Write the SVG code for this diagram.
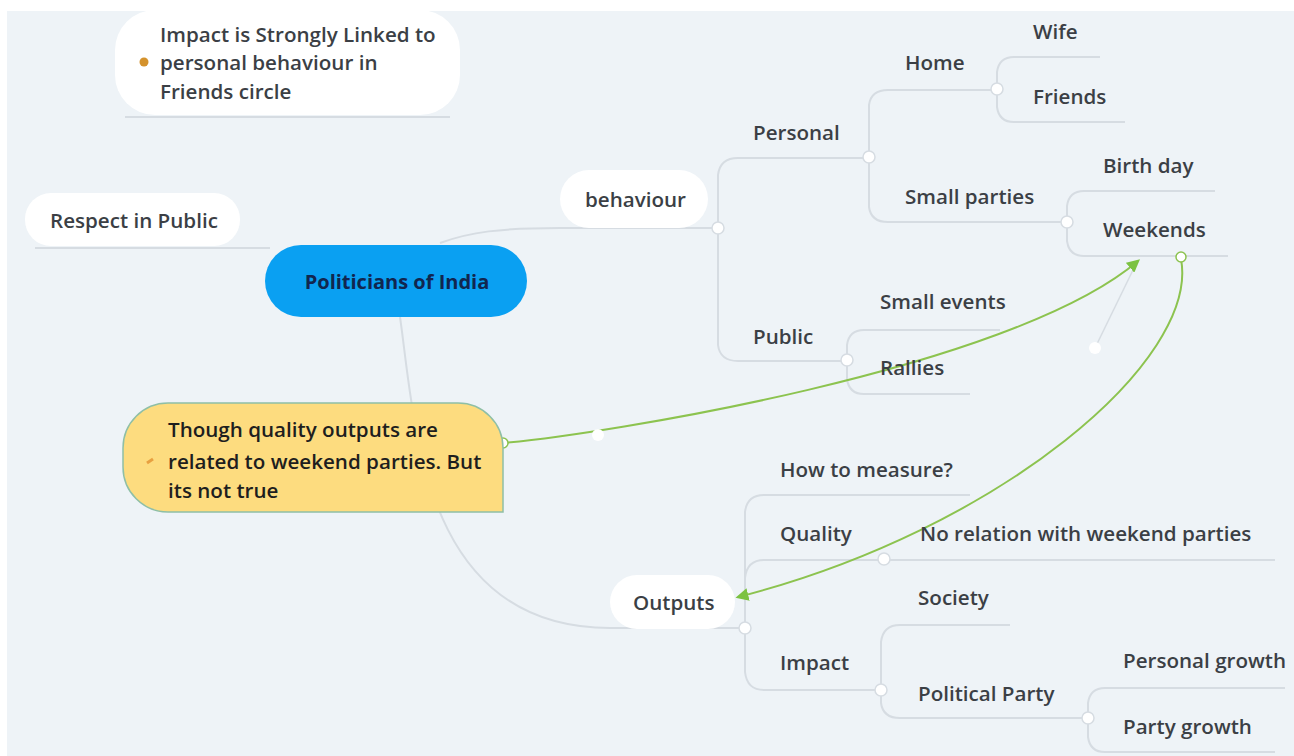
<svg xmlns="http://www.w3.org/2000/svg" width="1294" height="756" viewBox="0 0 1294 756">
<defs>
<style>
.t{font-family:"Open Sans","Liberation Sans",Arial,sans-serif;font-size:20.6px;font-weight:600;fill:#3b3f45;}
.ln{fill:none;stroke:#d6dce2;stroke-width:2;}
.hub{fill:#ffffff;stroke:#d6dce2;stroke-width:1.5;}
.box{fill:#ffffff;}
.rel{fill:none;stroke:#8cc34f;stroke-width:2;}
</style>
<marker id="ah" viewBox="0 0 10 10" refX="8" refY="5" markerWidth="13" markerHeight="13" orient="auto-start-reverse" markerUnits="userSpaceOnUse">
<path d="M0,0 L10,5 L0,10 z" fill="#7cc242"/>
</marker>
</defs>
<rect x="0" y="0" width="1294" height="756" fill="#ffffff"/>
<rect x="7" y="11" width="1287" height="745" fill="#eef3f7"/>

<g id="connectors">
<path class="ln" d="M440,243 C470,232 500,228 560,228 L718,228"/>
<path class="ln" d="M718,228 L718,175 Q720,158 738,158 L869,158"/>
<path class="ln" d="M718,228 L718,345 Q720,361 738,361 L847,361"/>
<path class="ln" d="M869,158 L869,105 Q871,90 888,90 L997,90"/>
<path class="ln" d="M869,158 L869,207 Q871,222 888,222 L1067,222"/>
<path class="ln" d="M997,90 L997,72 Q999,57 1014,57 L1100,57"/>
<path class="ln" d="M997,90 L997,107 Q999,122 1014,122 L1125,122"/>
<path class="ln" d="M1067,222 L1067,206 Q1069,191 1084,191 L1215,191"/>
<path class="ln" d="M1067,222 L1067,241 Q1069,256 1084,256 L1228,256"/>
<path class="ln" d="M847,361 L847,345 Q849,330 864,330 L1000,330"/>
<path class="ln" d="M847,361 L847,379 Q849,394 864,394 L970,394"/>
<path class="ln" d="M400,317 C415,420 420,628 610,628 L745,628"/>
<path class="ln" d="M745,628 L745,512 Q747,495 764,495 L970,495"/>
<path class="ln" d="M745,628 L745,578 Q747,560 764,560 L1275,560"/>
<path class="ln" d="M745,628 L745,672 Q747,690 764,690 L881,690"/>
<path class="ln" d="M881,690 L881,642 Q883,625 900,625 L1010,625"/>
<path class="ln" d="M881,690 L881,703 Q883,718 900,718 L1088,718"/>
<path class="ln" d="M1088,718 L1088,703 Q1090,688 1105,688 L1285,688"/>
<path class="ln" d="M1088,718 L1088,737 Q1090,752 1105,752 L1275,752"/>
<path class="ln" d="M35,248 L270,248"/>
<path class="ln" d="M125,117 L450,117"/>
<path fill="none" stroke="#d6dce2" stroke-width="1.5" d="M1095,348 L1133,270"/>
<path class="rel" d="M503,443 C598,435 1010,370 1138,261" marker-end="url(#ah)"/>
<path class="rel" d="M1181,259 C1200,360 1000,530 738,597" marker-end="url(#ah)"/>
<circle cx="598" cy="435" r="6" fill="#ffffff"/>
<circle cx="1095" cy="348" r="6" fill="#ffffff"/>
<circle cx="503" cy="443" r="5" fill="#ffffff" stroke="#8cc34f" stroke-width="1.5"/>
<circle cx="1181" cy="257" r="5" fill="#ffffff" stroke="#8cc34f" stroke-width="1.5"/>
<circle class="hub" cx="718" cy="228" r="6"/>
<circle class="hub" cx="869" cy="157" r="6"/>
<circle class="hub" cx="997" cy="89" r="6"/>
<circle class="hub" cx="1067" cy="222" r="6"/>
<circle class="hub" cx="847" cy="360" r="6"/>
<circle class="hub" cx="745" cy="628" r="6"/>
<circle class="hub" cx="884" cy="559" r="6"/>
<circle class="hub" cx="881" cy="690" r="6"/>
<circle class="hub" cx="1088" cy="718" r="6"/>
</g>

<g id="note-impact">
<rect class="box" x="115" y="10" width="345" height="105" rx="40"/>
<circle cx="144" cy="62" r="4.5" fill="#d4922c"/>
<text class="t" x="160" y="42">Impact is Strongly Linked to</text>
<text class="t" x="160" y="70">personal behaviour in</text>
<text class="t" x="160" y="99">Friends circle</text>
</g>

<g id="respect">
<rect class="box" x="25" y="193" width="215" height="53" rx="26"/>
<text class="t" x="50" y="228">Respect in Public</text>
</g>

<g id="central">
<rect x="265" y="245" width="262" height="72" rx="36" fill="#0aa0f2"/>
<text x="397" y="289" text-anchor="middle" font-family="Open Sans,Liberation Sans,Arial,sans-serif" font-size="20" font-weight="bold" fill="#11264f">Politicians of India</text>
</g>

<g id="behaviour">
<rect class="box" x="560" y="170" width="148" height="58" rx="29"/>
<text class="t" x="585" y="207">behaviour</text>
</g>
<g id="personal"><text class="t" x="753" y="140">Personal</text></g>
<g id="home"><text class="t" x="905" y="70">Home</text></g>
<g id="wife"><text class="t" x="1033" y="39">Wife</text></g>
<g id="friends"><text class="t" x="1033" y="104">Friends</text></g>
<g id="small-parties"><text class="t" x="905" y="204">Small parties</text></g>
<g id="birth-day"><text class="t" x="1103" y="173">Birth day</text></g>
<g id="weekends"><text class="t" x="1103" y="237">Weekends</text></g>
<g id="public"><text class="t" x="753" y="344">Public</text></g>
<g id="small-events"><text class="t" x="880" y="309">Small events</text></g>
<g id="rallies"><text class="t" x="880" y="375">Rallies</text></g>

<g id="outputs">
<rect class="box" x="610" y="575" width="125" height="54" rx="27"/>
<text class="t" x="633" y="610">Outputs</text>
</g>
<g id="how-to-measure"><text class="t" x="780" y="477">How to measure?</text></g>
<g id="quality"><text class="t" x="780" y="541">Quality</text></g>
<g id="no-relation"><text class="t" x="920" y="541">No relation with weekend parties</text></g>
<g id="impact"><text class="t" x="780" y="670">Impact</text></g>
<g id="society"><text class="t" x="918" y="605">Society</text></g>
<g id="political-party"><text class="t" x="918" y="701">Political Party</text></g>
<g id="personal-growth"><text class="t" x="1123" y="668">Personal growth</text></g>
<g id="party-growth"><text class="t" x="1123" y="734">Party growth</text></g>

<g id="note-quality">
<path d="M168,403 L458,403 A45,45 0 0 1 503,448 L503,512 L168,512 A45,45 0 0 1 123,467 L123,448 A45,45 0 0 1 168,403 Z" fill="#fddc7f" stroke="#8fbfa6" stroke-width="1.5"/>
<path d="M147,463 L153,459" stroke="#e8a040" stroke-width="3"/>
<text class="t" x="168" y="437" style="fill:#1e1e1e">Though quality outputs are</text>
<text class="t" x="168" y="469" style="fill:#1e1e1e">related to weekend parties. But</text>
<text class="t" x="168" y="498" style="fill:#1e1e1e">its not true</text>
</g>
</svg>
